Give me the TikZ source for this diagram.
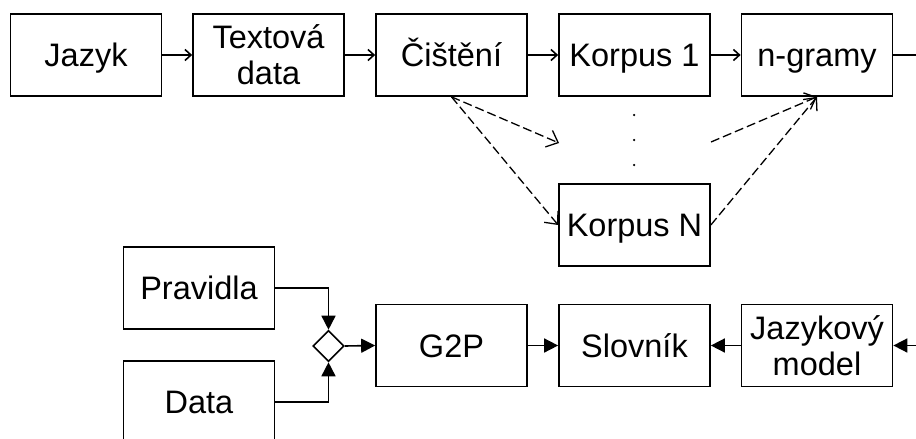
\documentclass[tikz,border=0pt]{standalone}
\usepackage{fontspec}
\setmainfont{Liberation Sans}
\usetikzlibrary{arrows.meta,shapes.geometric}
\begin{document}
\begin{tikzpicture}[x=1pt,y=-1pt,
  blk/.style={draw,line width=1.7pt,minimum width=151pt,minimum height=82pt,inner sep=0pt,align=center,font=\fontsize{32.5}{36}\selectfont},
  one/.style={text height=23pt,text depth=0pt},
  openarr/.style={line width=1.6pt,-{Straight Barb[length=6pt,width=11pt,line width=1.6pt]}},
  fillarr/.style={line width=1.6pt,-{Triangle[length=14pt,width=14pt]}},
  dasharr/.style={line width=1.3pt,dash pattern=on 9pt off 4pt,-{Straight Barb[length=10pt,width=18pt,line width=1.3pt]}},
  dotmark/.style={circle,fill,inner sep=0pt,minimum size=2.5pt},
  joint/.style={diamond,draw,line width=1.6pt,inner sep=0pt,minimum width=31pt,minimum height=31pt}]
\useasboundingbox (0,0) rectangle (916,439);
% top row
\node[blk,one] (jazyk) at (86,55) {Jazyk};
\node[blk] (text) at (268.5,55) {Textová\\data};
\node[blk,one] (cist) at (451.5,55) {Čištění};
\node[blk,one] (k1) at (634.5,55) {Korpus 1};
\node[blk,one] (ngram) at (817,55) {n-gramy};
\node[blk,one] (kn) at (634.5,225) {Korpus N};
% bottom
\node[blk,one] (prav) at (199,288) {Pravidla};
\node[blk,one] (data) at (199,402) {Data};
\node[joint] (dia) at (328.5,346) {};
\node[blk,one] (g2p) at (451.5,345.5) {G2P};
\node[blk,one] (slov) at (634.5,345.5) {Slovník};
\node[blk] (jm) at (817,345.5) {Jazykový\\model};
% dots
\node[dotmark] (d1) at (634,115) {};
\node[dotmark] (d2) at (634,140) {};
\node[dotmark] (d3) at (634,165) {};
% free ends
\coordinate (outR) at (916,55);
\coordinate (inR) at (916,345.5);
\coordinate (c1) at (559,143);
\coordinate (c2) at (711,142);
% top arrows
\draw[openarr] (jazyk) -- (text);
\draw[openarr] (text) -- (cist);
\draw[openarr] (cist) -- (k1);
\draw[openarr] (k1) -- (ngram);
\draw[line width=1.6pt] (ngram.east) -- (outR);
% dashed
\draw[dasharr] (cist.south) -- (c1);
\draw[dasharr] (cist.south) -- (kn.west);
\draw[dasharr] (c2) -- (ngram.south);
\draw[dasharr] (kn.east) -- (ngram.south);
% bottom arrows
\draw[fillarr] (prav.east) -| (dia.north);
\draw[fillarr] (data.east) -| (dia.south);
\draw[fillarr] (dia.east) -- (g2p.west);
\draw[fillarr] (g2p) -- (slov);
\draw[fillarr] (jm) -- (slov);
\draw[fillarr] (inR) -- (jm.east);
\end{tikzpicture}
\end{document}
